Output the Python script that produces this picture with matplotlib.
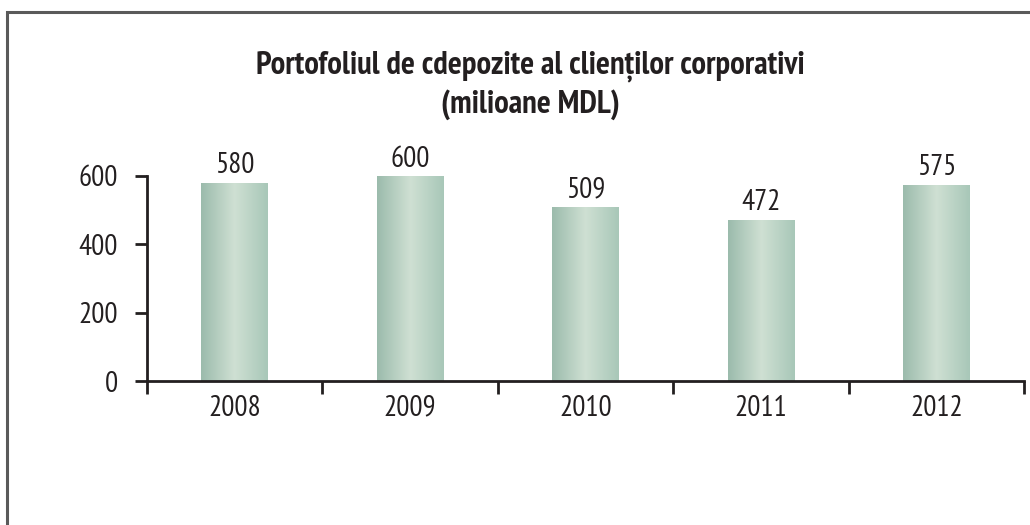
import matplotlib
matplotlib.use("Agg")
import matplotlib.pyplot as plt
import numpy as np
from matplotlib.patches import Rectangle
from matplotlib.colors import LinearSegmentedColormap
from matplotlib import font_manager

years = ["2008", "2009", "2010", "2011", "2012"]
values = [580, 600, 509, 472, 575]
yticks = [0, 200, 400, 600]
title = "Portofoliul de cdepozite al clienților corporativi\n(milioane MDL)"

names = {f.name for f in font_manager.fontManager.ttflist}
prefs = ["Myriad Pro Cond", "PT Sans Narrow", "Fira Sans Condensed", "Open Sans Condensed",
         "Encode Sans Condensed", "Roboto Condensed", "Asap Condensed", "Barlow Condensed"]
fam = next((p for p in prefs if p in names), "DejaVu Sans")
plt.rcParams['font.family'] = [fam, 'DejaVu Sans']

fig = plt.figure(figsize=(10.30, 5.25), dpi=100)
ax = fig.add_axes([147/1030, 144/525, (1024-147)/1030, (381-176)/525])

x = np.arange(len(years))
width = 0.38
bars = ax.bar(x, values, width=width, color="none", edgecolor="none")
cmap = LinearSegmentedColormap.from_list(
    "g", [(0, "#9bbbac"), (0.5, "#cfe0d3"), (1, "#a8c7b8")])
grad = np.linspace(0, 1, 256).reshape(1, -1)
for b in bars:
    bx, by = b.get_x(), b.get_y()
    w, h = b.get_width(), b.get_height()
    im = ax.imshow(grad, cmap=cmap, extent=[bx, bx + w, by, by + h],
                   aspect="auto", zorder=2)
    im.set_clip_path(b)

for xi, v in zip(x, values):
    ax.annotate(str(v), (xi, v), xytext=(0, 2.5), textcoords="offset points",
                ha="center", va="bottom", fontsize=21, color="#231f20",
                annotation_clip=False)

ax.set_xlim(-0.5, len(years) - 0.5)
ax.set_ylim(0, 600)
ax.set_yticks(yticks)
ax.set_yticklabels([str(t) for t in yticks], fontsize=21, color="#231f20")
ax.set_xticks(x)
ax.set_xticklabels(years, fontsize=21, color="#231f20")
ax.tick_params(axis="x", length=0, pad=10)
ax.set_xticks(np.arange(-0.5, len(years)), minor=True)
ax.tick_params(axis="x", which="minor", length=9, width=2, color="#231f20", direction="out")
ax.tick_params(axis="y", length=9, width=2, color="#231f20", pad=12)
for s in ["top", "right"]:
    ax.spines[s].set_visible(False)
for s in ["left", "bottom"]:
    ax.spines[s].set_linewidth(2)
    ax.spines[s].set_color("#231f20")
ax.patch.set_visible(False)

fig.text(530/1030, 1 - 85/525, title, ha="center", va="center",
         fontsize=23.5, fontweight="bold", color="#231f20", linespacing=1.3)

border = Rectangle((6.5/1030, -0.05), 1.1, 1 - 11.5/525 + 0.05,
                   transform=fig.transFigure, fill=False,
                   edgecolor="#5a5a5a", linewidth=2.2, clip_on=False)
fig.patches.append(border)

fig.savefig("out.png", dpi=100)
